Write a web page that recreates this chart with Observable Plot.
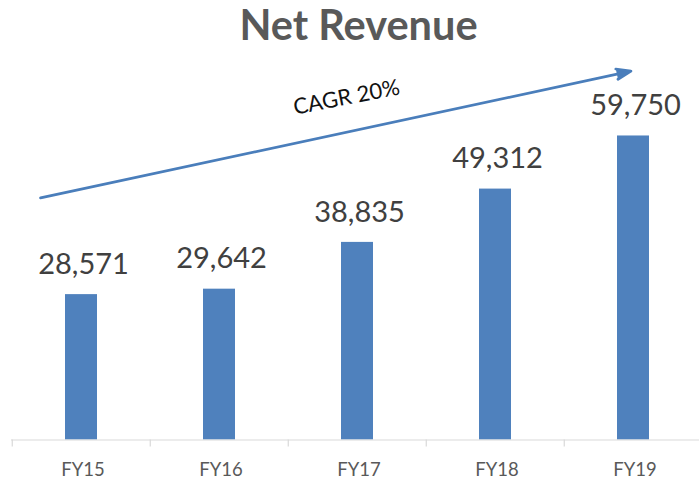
<!DOCTYPE html>
<html><head><meta charset="utf-8">
<script src="https://cdn.jsdelivr.net/npm/d3@7"></script>
<script src="https://cdn.jsdelivr.net/npm/@observablehq/plot@0.6"></script>
<style>body{margin:0;background:#fff;} svg{display:block;}</style>
</head><body><div id="chart"></div>
<script>
const categories = ["FY15", "FY16", "FY17", "FY18", "FY19"];
const revenue = [28571, 29642, 38835, 49312, 59750];
const titleText = "Net Revenue";
const cagrText = "CAGR 20%";
const cagrAt = ["FY17", 67300];
const arrowFrom = ["FY15", 49300];
const arrowTo = ["FY19", 72600];

const data = categories.map((c, i) => ({year: c, value: revenue[i]}));
const W = 699, H = 479;
const left = 11, right = 703.5;
const step = (right - left) / categories.length;
const font = "Lato, 'Open Sans', sans-serif";

const chart = Plot.plot({
  width: W, height: H,
  marginTop: 134.2, marginBottom: 39.5, marginLeft: left, marginRight: 0,
  style: {fontFamily: font, background: "#fff"},
  x: {domain: categories, range: [left, right], paddingInner: 0.77, paddingOuter: 0.385, axis: null},
  y: {domain: [0, 60000], axis: null},
  marks: [
    Plot.barY(data, {x: "year", y: "value", fill: "#4f81bd"}),
    Plot.ruleY([0], {stroke: "#d9d9d9", strokeWidth: 1.2}),
    Plot.ruleX(categories, {x: d => d, y1: 0, y2: 0, insetBottom: -7, dx: -step / 2, stroke: "#d9d9d9", strokeWidth: 1.2}),
    Plot.text(categories, {x: d => d, y: 0, dy: 30.5, dx: 1.5, text: d => d, fontSize: 18.5, fill: "#595959", lineAnchor: "middle"}),
    Plot.text(data, {x: "year", y: "value", dy: -30, dx: 2, text: d => d3.format(",")(d.value), fontSize: 29, fill: "#404040", lineAnchor: "middle"}),
    Plot.arrow([{a: arrowFrom, b: arrowTo}], {
      x1: d => d.a[0], y1: d => d.a[1], x2: d => d.b[0], y2: d => d.b[1],
      insetStart: -41.9, insetEnd: 2.6,
      stroke: "#4a7ebb", fill: "#4a7ebb", strokeWidth: 2.7,
      headLength: 8.5, headAngle: 40, strokeLinejoin: "miter"
    }),
    Plot.text([cagrText], {x: () => cagrAt[0], y: () => cagrAt[1], dx: -11, text: d => d, rotate: -11, fontSize: 22, fill: "#111", lineAnchor: "middle"}),
    Plot.text([titleText], {frameAnchor: "top", dx: 3, dy: -108, text: d => d, fontSize: 41.5, fontWeight: "bold", fill: "#595959", lineAnchor: "middle"})
  ]
});
document.getElementById("chart").appendChild(chart);
</script>
</body></html>
